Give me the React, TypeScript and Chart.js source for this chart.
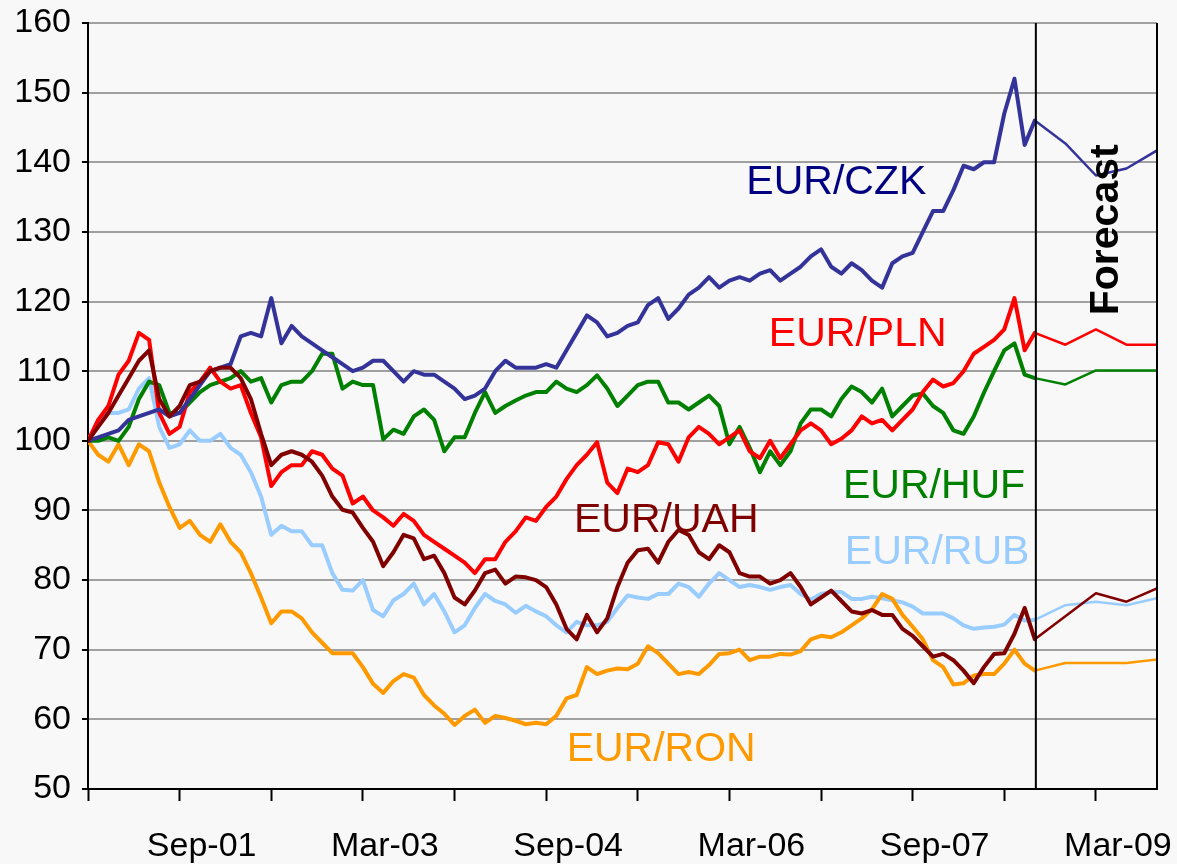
import React, { useEffect, useRef } from 'react';
import { Chart, registerables } from 'chart.js';

Chart.register(...registerables);

// ---- Data (x = month index from the left edge of the axis, history is monthly from 0) ----
const czk = [
  100, 100.5, 101, 101.5, 103, 103.5, 104, 104.5, 103.5, 104,
  106, 108, 110, 110.5, 111, 115, 115.5, 115, 120.5, 114,
  116.5, 115, 114, 113, 112, 111, 110, 110.5, 111.5, 111.5,
  110, 108.5, 110, 109.5, 109.5, 108.5, 107.5, 106, 106.5, 107.5,
  110, 111.5, 110.5, 110.5, 110.5, 111, 110.5, 113, 115.5, 118,
  117, 115, 115.5, 116.5, 117, 119.5, 120.5, 117.5, 119, 121,
  122, 123.5, 122, 123, 123.5, 123, 124, 124.5, 123, 124,
  125, 126.5, 127.5, 125, 124, 125.5, 124.5, 123, 122, 125.5,
  126.5, 127, 130, 133, 133, 136, 139.5, 139, 140, 140,
  147, 152, 142.5, 146,
];
const pln = [
  100, 103, 105, 109.5, 111.5, 115.5, 114.5, 104, 101, 102,
  107, 108.5, 110.5, 108.5, 107.5, 108, 104, 100.5, 93.5, 95.5,
  96.5, 96.5, 98.5, 98, 96, 95, 91, 92, 90, 89,
  87.8, 89.5, 88.5, 86.5, 85.5, 84.5, 83.5, 82.5, 81, 83,
  83, 85.5, 87, 89, 88.5, 90.5, 92, 94.5, 96.5, 98,
  99.8, 94, 92.5, 96, 95.5, 96.5, 99.8, 99.5, 97, 100.5,
  102, 101, 99.5, 100.5, 101.5, 98.5, 97.5, 100, 97.5, 99.5,
  101.5, 102.5, 101.5, 99.5, 100.3, 101.5, 103.5, 102.5, 103, 101.5,
  103, 104.5, 107, 108.8, 107.8, 108.3, 110, 112.5, 113.5, 114.5,
  116, 120.5, 113, 115.5,
];
const huf = [
  100, 100, 100.5, 100, 102, 106, 108.5, 108, 104, 104,
  105.5, 107, 108, 108.5, 109, 110, 108.5, 109, 105.5, 108,
  108.5, 108.5, 110, 112.5, 112.5, 107.5, 108.5, 108, 108, 100.2,
  101.6, 101, 103.5, 104.5, 103, 98.5, 100.5, 100.5, 104, 107,
  104, 105, 105.8, 106.5, 107, 107, 108.5, 107.5, 107, 108,
  109.4, 107.5, 105, 106.5, 108, 108.5, 108.5, 105.5, 105.5, 104.5,
  105.5, 106.5, 105, 99.5, 102, 99, 95.5, 98.5, 96.5, 98.5,
  102.5, 104.5, 104.5, 103.5, 106, 107.8, 107, 105.5, 107.5, 103.5,
  105, 106.5, 106.8, 105, 104, 101.5, 101, 103.5, 106.9, 110,
  113, 114, 109.5, 109,
];
const uah = [
  100, 102, 104, 106.5, 109, 111.5, 113, 106, 103.5, 105,
  108, 108.5, 110, 110.5, 110.5, 109, 106, 101, 96.5, 98,
  98.5, 98, 97, 95, 92, 90.1, 89.7, 87.5, 85.5, 82,
  84, 86.5, 86, 83, 83.5, 81, 77.5, 76.5, 78.5, 81,
  81.5, 79.5, 80.5, 80.4, 80, 79, 76.5, 73, 71.5, 75,
  72.5, 74.5, 79, 82.5, 84.3, 84.5, 82.5, 85.5, 87.2, 86.5,
  84, 83, 85, 84, 81, 80.5, 80.5, 79.5, 80, 81,
  79, 76.5, 77.5, 78.5, 77, 75.5, 75.2, 75.7, 75, 75,
  73, 72, 70.5, 69, 69.4, 68.5, 67, 65.2, 67.5, 69.4,
  69.5, 72.3, 76, 71.5,
];
const rub = [
  100, 103, 104, 104, 104.5, 107.5, 109, 102, 99, 99.5,
  101.5, 100, 100, 101, 99, 98, 95.5, 92, 86.5, 87.8,
  87, 87, 85, 85, 81, 78.6, 78.5, 80, 75.7, 74.8,
  77.1, 78, 79.5, 76.5, 78, 75.5, 72.5, 73.5, 76, 78,
  77, 76.5, 75.3, 76.3, 75.5, 74.8, 73.5, 72.5, 74, 73.5,
  73.5, 74, 76, 77.8, 77.5, 77.3, 78, 78, 79.5, 79,
  77.6, 79.5, 81, 80, 79, 79.3, 79, 78.6, 79, 79.3,
  78, 77.2, 78, 78.3, 78.3, 77.3, 77.3, 77.6, 77.4, 77.1,
  76.8, 76.2, 75.2, 75.2, 75.2, 74.5, 73.5, 73, 73.2, 73.3,
  73.6, 75, 74.2, 74.3,
];
const ron = [
  100, 98, 97, 99.5, 96.5, 99.5, 98.5, 94, 90.5, 87.5,
  88.5, 86.5, 85.5, 88, 85.5, 84, 81, 77.5, 73.8, 75.5,
  75.5, 74.5, 72.5, 71, 69.5, 69.5, 69.5, 67.5, 65.1, 63.8,
  65.5, 66.5, 66, 63.5, 62, 60.8, 59.2, 60.5, 61.4, 59.5,
  60.5, 60.2, 59.8, 59.3, 59.5, 59.3, 60.5, 63, 63.5, 67.5,
  66.5, 67, 67.3, 67.2, 68, 70.5, 69.5, 68, 66.5, 66.8,
  66.5, 67.8, 69.4, 69.5, 70, 68.5, 69, 69, 69.4, 69.3,
  69.8, 71.5, 72, 71.8, 72.5, 73.5, 74.5, 75.8, 78, 77.3,
  75, 73.3, 71.5, 68.5, 67.5, 65, 65.2, 66.3, 66.5, 66.5,
  68, 70, 68, 67,
];

const forecastMonths = [93, 96, 99, 102, 105];
const czkForecast = [146, 142.7, 138.1, 139.1, 141.7];
const plnForecast = [115.5, 113.8, 116, 113.8, 113.8];
const hufForecast = [109, 108.1, 110.1, 110.1, 110.1];
const uahForecast = [71.5, 74.8, 78.1, 76.9, 78.8];
const rubForecast = [74.3, 76.4, 76.9, 76.4, 77.4];
const ronForecast = [67, 68.1, 68.1, 68.1, 68.6];

const xTickMonths = [0, 9, 18, 27, 36, 45, 54, 63, 72, 81, 90, 99];
const xLabelMonths = [9, 27, 45, 63, 81, 99];
const xLabels = ['Sep-01', 'Mar-03', 'Sep-04', 'Mar-06', 'Sep-07', 'Mar-09'];
const yMin = 50;
const yMax = 160;
const yStep = 10;
const xMin = 0;
const xMax = 105;
const forecastStart = 93.1;

// ---- Styles ----
const FONT = '"Liberation Sans", Arial, Helvetica, sans-serif';
const seriesDefs = [
  { name: 'EUR/UAH', hist: uah, fc: uahForecast, color: '#800000', order: 0 },
  { name: 'EUR/CZK', hist: czk, fc: czkForecast, color: '#333399', order: 1 },
  { name: 'EUR/PLN', hist: pln, fc: plnForecast, color: '#ff0000', order: 2 },
  { name: 'EUR/HUF', hist: huf, fc: hufForecast, color: '#008000', order: 3 },
  { name: 'EUR/RON', hist: ron, fc: ronForecast, color: '#ff9900', order: 4 },
  { name: 'EUR/RUB', hist: rub, fc: rubForecast, color: '#99ccff', order: 5 },
];

const seriesLabels = [
  { text: 'EUR/CZK', x: 73.5, y: 137.6, color: '#000080' },
  { text: 'EUR/PLN', x: 75.6, y: 115.7, color: '#ff0000' },
  { text: 'EUR/HUF', x: 83.1, y: 93.9, color: '#008000' },
  { text: 'EUR/UAH', x: 56.8, y: 89.0, color: '#800000' },
  { text: 'EUR/RUB', x: 83.4, y: 84.4, color: '#99ccff' },
  { text: 'EUR/RON', x: 56.3, y: 56.2, color: '#ff9900' },
];
const forecastLabel = { text: 'Forecast', x: 99.7, y: 130.3 };

const overlayPlugin = {
  id: 'overlay',
  beforeDraw(chart: any) {
    const { ctx, width, height } = chart;
    ctx.save();
    ctx.fillStyle = '#f8f8f8';
    ctx.fillRect(0, 0, width, height);
    ctx.restore();
  },
  afterDatasetsDraw(chart: any) {
    const { ctx, chartArea, scales } = chart;
    const xs = scales.x;
    const ys = scales.y;
    ctx.save();
    ctx.strokeStyle = '#000';
    ctx.lineWidth = 2;
    const fx = xs.getPixelForValue(forecastStart);
    ctx.beginPath();
    ctx.moveTo(fx, chartArea.top);
    ctx.lineTo(fx, chartArea.bottom);
    ctx.stroke();
    ctx.beginPath();
    ctx.moveTo(chartArea.right, chartArea.top);
    ctx.lineTo(chartArea.right, chartArea.bottom);
    ctx.stroke();

    const fs = 41;
    ctx.font = `${fs}px ${FONT}`;
    ctx.textAlign = 'center';
    ctx.textBaseline = 'alphabetic';
    for (const l of seriesLabels) {
      ctx.fillStyle = l.color;
      ctx.fillText(l.text, xs.getPixelForValue(l.x), ys.getPixelForValue(l.y) + fs * 0.358);
    }
    ctx.font = `bold ${fs}px ${FONT}`;
    ctx.fillStyle = '#000';
    ctx.translate(xs.getPixelForValue(forecastLabel.x), ys.getPixelForValue(forecastLabel.y));
    ctx.rotate(-Math.PI / 2);
    ctx.fillText(forecastLabel.text, 0, fs * 0.358);
    ctx.restore();
  },
};

export default function App() {
  const ref = useRef<HTMLCanvasElement>(null);
  useEffect(() => {
    document.body.style.margin = '0';
    document.body.style.background = '#f8f8f8';
    const datasets: any[] = [];
    for (const s of seriesDefs) {
      datasets.push({
        label: s.name,
        data: s.hist.map((v, i) => ({ x: i, y: v })),
        borderColor: s.color,
        borderWidth: 4,
        pointRadius: 0,
        tension: 0,
        fill: false,
        order: s.order,
      });
      datasets.push({
        label: s.name + ' forecast',
        data: forecastMonths.map((m, i) => ({ x: m, y: s.fc[i] })),
        borderColor: s.color,
        borderWidth: 2.5,
        pointRadius: 0,
        tension: 0,
        fill: false,
        order: s.order,
      });
    }
    const chart = new Chart(ref.current as HTMLCanvasElement, {
      type: 'line',
      data: { datasets },
      options: {
        responsive: false,
        animation: false,
        layout: { padding: { top: 23, right: 20, left: 0, bottom: 0 } },
        plugins: { legend: { display: false }, tooltip: { enabled: false } },
        elements: { line: { borderJoinStyle: 'round', borderCapStyle: 'round' } },
        scales: {
          x: {
            type: 'linear',
            min: xMin,
            max: xMax,
            afterBuildTicks: (s: any) => {
              s.ticks = xTickMonths.map((v) => ({ value: v }));
            },
            afterFit: (s: any) => {
              s.height = 75;
              s.paddingLeft = 0;
              s.paddingRight = 0;
            },
            grid: { drawOnChartArea: false, drawTicks: true, tickLength: 12, tickColor: '#000', tickWidth: 2 },
            border: { color: '#000', width: 2 },
            ticks: {
              autoSkip: false,
              maxRotation: 0,
              minRotation: 0,
              labelOffset: 22,
              padding: 25,
              color: '#000',
              font: { family: FONT, size: 34 },
              callback: (v: any) => {
                const idx = xLabelMonths.indexOf(Number(v));
                return idx >= 0 ? xLabels[idx] : '';
              },
            },
          },
          y: {
            min: yMin,
            max: yMax,
            afterFit: (s: any) => {
              s.width = 88;
              s.paddingTop = 0;
              s.paddingBottom = 0;
            },
            grid: { color: '#a0a0a0', lineWidth: 2, tickColor: '#000', tickLength: 6, tickWidth: 2 },
            border: { color: '#000', width: 2 },
            ticks: {
              stepSize: yStep,
              padding: 11,
              color: '#000',
              font: { family: FONT, size: 34 },
            },
          },
        },
      } as any,
      plugins: [overlayPlugin],
    });
    return () => chart.destroy();
  }, []);
  return (
    <div style={{ width: 1177, height: 864 }}>
      <canvas ref={ref} width={1177} height={864} style={{ display: 'block' }} />
    </div>
  );
}
